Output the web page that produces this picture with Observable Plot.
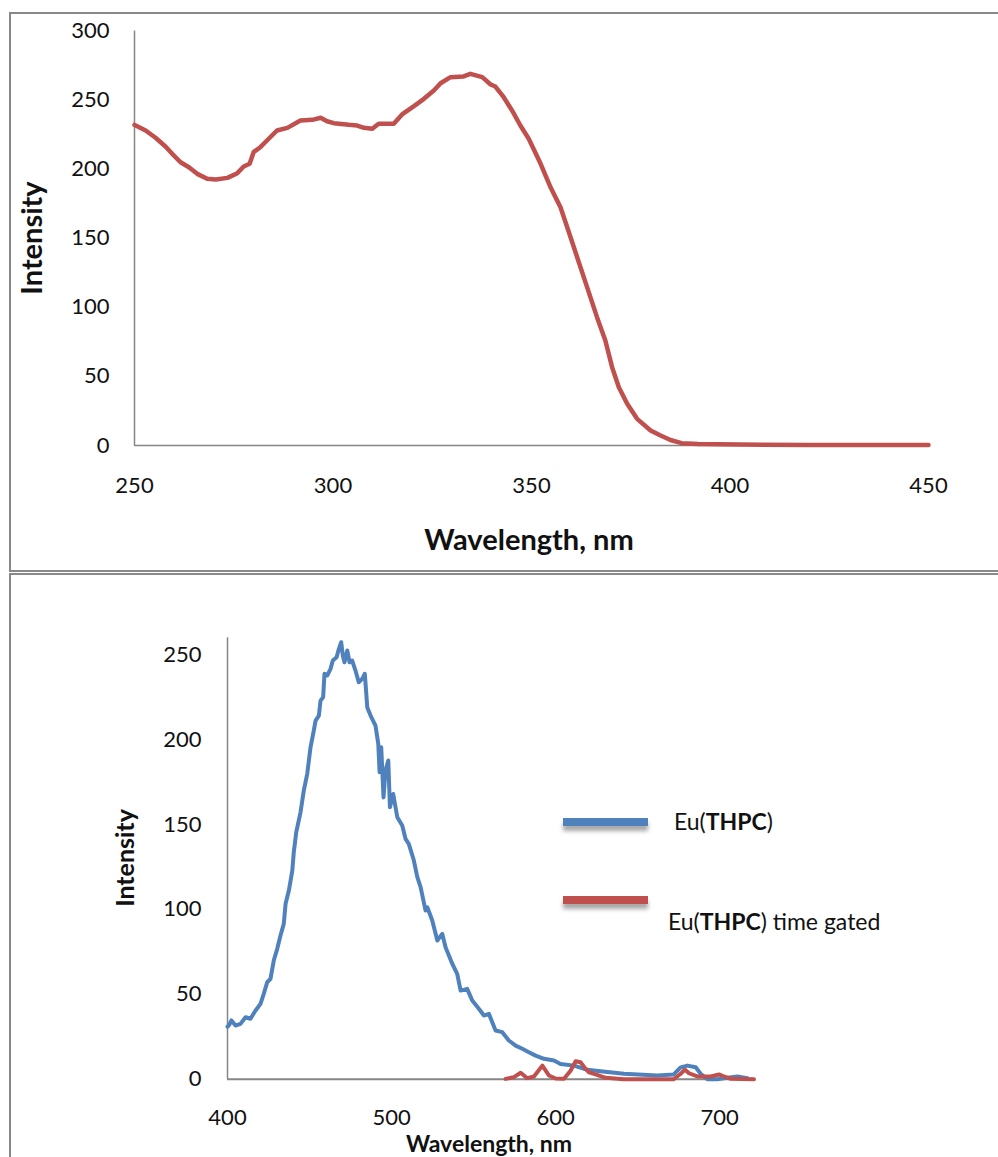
<!DOCTYPE html>
<html><head><meta charset="utf-8">
<script src="https://cdn.jsdelivr.net/npm/d3@7"></script>
<script src="https://cdn.jsdelivr.net/npm/@observablehq/plot@0.6"></script>
<style>
body{margin:0;background:#fff;font-family:Lato,"Open Sans",sans-serif;}
#wrap{position:relative;width:998px;height:1157px;overflow:hidden;background:#fff;}
.abs{position:absolute;}
.bl{position:absolute;background:#888;}
.sw{position:absolute;width:85px;height:8px;box-shadow:0 5px 4px rgba(0,0,0,0.35);}
.lg{position:absolute;font-size:23px;color:#111;white-space:nowrap;line-height:26px;}
</style>
</head><body>
<div id="wrap">
  <div id="top" class="abs" style="left:0;top:0;"></div>
  <div id="bot" class="abs" style="left:0;top:575px;"></div>
  <div class="bl" style="left:9px;top:12px;width:989px;height:1.5px;"></div>
  <div class="bl" style="left:9px;top:12px;width:1.5px;height:560px;"></div>
  <div class="bl" style="left:9px;top:570px;width:989px;height:2px;"></div>
  <div class="bl" style="left:9px;top:573px;width:989px;height:2px;"></div>
  <div class="bl" style="left:9px;top:573px;width:2px;height:584px;"></div>
  <div class="sw" style="left:563px;top:818px;background:#4F81BD;"></div>
  <div class="lg" style="left:674px;top:808px;">Eu(<b>THPC</b>)</div>
  <div class="sw" style="left:563px;top:896px;background:#C0504D;"></div>
  <div class="lg" style="left:668px;top:908px;">Eu(<b>THPC</b>) time gated</div>
</div>
<script>
// ---- Top panel: excitation spectrum ----
const topWavelength = [250,250.3,252.8,255.3,257.8,259.5,261.6,263.7,265.8,268.3,270.5,273.4,275.9,277.5,279,280,281.7,283.8,285.9,288.5,291.8,294.8,296.9,298.5,300.2,304,306.1,307.8,309.9,311.5,315.3,317.4,320.4,322.9,325.4,327.1,329.6,332.9,334.6,337.6,339.7,340.9,343,345.1,347.2,349.3,352.3,354.8,357.3,359,361.5,364,366.5,368.6,370.3,372,374.1,376.6,380,382.5,385,387.8,392,402.2,420,450];
const topIntensity  = [232,231.6,228,222.7,216.4,211.1,205,201.4,196.6,193,192.5,193.7,197.1,201.9,203.9,212.3,215.9,222,228,229.9,235.2,235.7,237.2,234.7,233.3,232.1,231.6,229.9,229.2,232.8,232.8,239.6,245.6,250.9,256.9,262.2,266.6,267.1,269,266.6,261.3,259.8,252.1,242.5,231.6,222,203.9,186.9,172.5,158,136.3,114.6,92.9,76,56.7,42.2,30.2,19.3,10.9,7.2,4,1.7,1,0.7,0.3,0.3];
const topXTicks = [250,300,350,400,450];
const topYTicks = [0,50,100,150,200,250,300];

// ---- Bottom panel: emission spectra ----
const blueWavelength = [400,400.8,402.4,404.9,407.9,411,414,417.1,420.1,422.1,424.2,426.2,428.2,430.3,432.3,434.3,435.4,437.4,439.5,440.4,441.9,444.5,446.5,448.6,450.6,452.6,453.7,455.7,456.7,458.3,459.1,460.8,462.8,464.2,466.5,467.9,469.3,470.3,471.3,473,474.4,476,478,480,482.1,483.7,485.2,487.2,490.2,491.9,492.7,493.7,495.1,496.3,498,499,501,503.5,506.5,508.5,510.5,513.6,515.7,517.7,520.7,521.8,524.8,527.9,530.9,532.9,537,540,542.1,546.1,549.2,553.2,556.3,559.3,563.4,567.5,571.5,575.6,579.7,583.7,587.8,592.9,599,603,611.2,619.3,627.4,641.6,661.9,672,676.2,680.3,685.4,688.4,692.5,698.6,704.7,710.8,716.9];
const blueIntensity  = [31,31.6,34.6,31.6,32.6,36.5,35.6,40.5,44.4,50.3,57.1,59.1,69.9,76.8,84.6,91.5,103.3,111.1,122.9,133.7,145.5,157.2,170,179.9,195.5,205.4,211.2,214.2,223,225,238.8,237.8,241.7,246.6,248.5,253.5,257.4,249.5,245.6,252.5,245.6,246.6,240.7,233.8,235.8,238.8,219,214.2,208.3,197.5,180.8,195.5,166,181.8,187.7,160.2,168,154.3,149.4,141.6,138.6,128.8,119,113.1,99.4,101.3,93.5,81.7,85.6,77.7,68,62.1,52.2,53.2,46.3,41.5,37.5,38.5,28.7,27.7,22.8,19.8,17.9,15.9,13.9,12,11,9,8,5.5,4.7,3.2,2.2,2.8,7,8,7,3.2,0,0,0.8,1.6,0.6];
const redWavelength = [569.5,574.6,578.7,582.7,586.8,591.9,595.9,600,605.1,609.1,612.2,615.2,618.3,620.3,623.4,630.5,641.6,672,676.2,678.7,681.3,686.4,694.5,699.6,702.6,706.7,720.9];
const redIntensity  = [0.2,1.2,3.8,0.6,1.6,8,2.2,0.4,0.2,5,10.6,10,6.1,4.1,3.2,0.8,0,0,3.2,5.7,3.5,1.6,1.6,2.8,1.6,0.2,0];
const botXTicks = [400,500,600,700];
const botYTicks = [0,50,100,150,200,250];

const topData = topWavelength.map((w,i)=>({w, v: topIntensity[i]}));
const blueData = blueWavelength.map((w,i)=>({w, v: blueIntensity[i]}));
const redData = redWavelength.map((w,i)=>({w, v: redIntensity[i]}));

const axisCol = "#868686";
const styleBase = {fontFamily:"Lato, 'Open Sans', sans-serif", fontSize:"22px", color:"#111", background:"transparent", overflow:"visible"};

const topPlot = Plot.plot({
  width: 998, height: 570,
  marginLeft: 134, marginRight: 70, marginTop: 30.5, marginBottom: 125,
  x: {domain:[250,450]},
  y: {domain:[0,300]},
  style: styleBase,
  marks: [
    Plot.axisX({ticks: topXTicks, tickSize: 0, tickPadding: 32, label: null, tickFormat: d => String(d)}),
    Plot.axisY({ticks: topYTicks, tickSize: 0, tickPadding: 25, label: null, tickFormat: d => String(d)}),
    Plot.ruleX([250], {stroke: axisCol, strokeWidth: 1.5}),
    Plot.ruleY([0], {stroke: axisCol, strokeWidth: 1.5}),
    Plot.line(topData, {x:"w", y:"v", stroke:"#C0504D", strokeWidth:4.5, strokeLinejoin:"round"})
  ]
});
document.getElementById("top").appendChild(topPlot);
const ts = d3.select(topPlot);
ts.append("text").attr("x",529).attr("y",543).attr("text-anchor","middle").attr("dominant-baseline","middle")
  .attr("font-weight","bold").attr("font-size",29).attr("fill","#111").text("Wavelength, nm");
ts.append("text").attr("transform","translate(35,238) rotate(-90)").attr("text-anchor","middle").attr("dominant-baseline","middle")
  .attr("font-weight","bold").attr("font-size",29).attr("fill","#111").text("Intensity");

const botPlot = Plot.plot({
  width: 998, height: 582,
  marginLeft: 227, marginRight: 246, marginTop: 62.3, marginBottom: 78.3,
  x: {domain:[400,720]},
  y: {domain:[0,260]},
  style: styleBase,
  marks: [
    Plot.axisX({ticks: botXTicks, tickSize: 0, tickPadding: 30, label: null, tickFormat: d => String(d)}),
    Plot.axisY({ticks: botYTicks, tickSize: 0, tickPadding: 26, label: null, tickFormat: d => String(d)}),
    Plot.ruleX([400], {stroke: axisCol, strokeWidth: 1.5}),
    Plot.ruleY([0], {stroke: axisCol, strokeWidth: 2}),
    Plot.line(blueData, {x:"w", y:"v", stroke:"#4F81BD", strokeWidth:4, strokeLinejoin:"round"}),
    Plot.line(redData, {x:"w", y:"v", stroke:"#C0504D", strokeWidth:4, strokeLinejoin:"round"})
  ]
});
document.getElementById("bot").appendChild(botPlot);
const bs = d3.select(botPlot);
bs.append("text").attr("x",489).attr("y",571).attr("text-anchor","middle").attr("dominant-baseline","middle")
  .attr("font-weight","bold").attr("font-size",23).attr("fill","#111").text("Wavelength, nm");
bs.append("text").attr("transform","translate(128,283) rotate(-90)").attr("text-anchor","middle").attr("dominant-baseline","middle")
  .attr("font-weight","bold").attr("font-size",25).attr("fill","#111").text("Intensity");
</script>
</body></html>
